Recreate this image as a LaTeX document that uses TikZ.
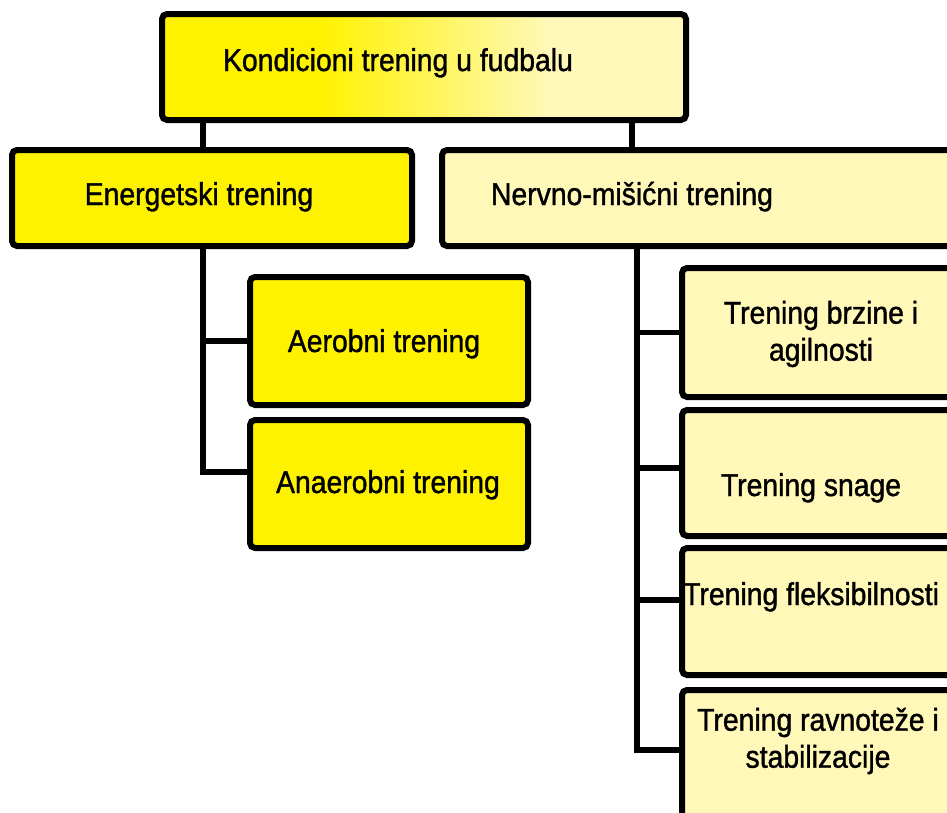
\documentclass[tikz,border=0pt]{standalone}
\usepackage{fontspec}
\setmainfont{Liberation Sans}[FakeStretch=0.9,FakeBold=1.2]
\definecolor{ylw}{RGB}{255,242,0}
\definecolor{pale}{RGB}{255,248,184}
% left-to-right fade used by the root box
\pgfdeclarehorizontalshading{topfade}{100bp}{color(0bp)=(ylw); color(40bp)=(ylw); color(62bp)=(pale); color(100bp)=(pale)}

\begin{document}
\begin{tikzpicture}[x=1pt,y=-1pt,
  box/.style={draw=black, line width=6pt, rounded corners=5pt, inner sep=0pt},
  link/.style={draw=black, line width=5.5pt},
  lbl/.style={inner sep=0pt, font=\fontsize{31.5}{37}\selectfont, align=center, text=black}]

\useasboundingbox[fill=white] (0,0) rectangle (947,812);
\clip (0,0) rectangle (947,812);

% boxes
\node[box, shading=topfade, minimum width=524pt, minimum height=106pt] (top) at (424,67) {};
\node[box, fill=ylw, minimum width=400pt, minimum height=96pt] (ener) at (212,198) {};
\node[box, fill=pale, minimum width=528pt, minimum height=96pt] (nerv) at (706,198) {};
\node[box, fill=ylw, minimum width=278pt, minimum height=128pt] (aer) at (389,341) {};
\node[box, fill=ylw, minimum width=278pt, minimum height=128pt] (anaer) at (389,484) {};
\node[box, fill=pale, minimum width=288pt, minimum height=129pt] (brz) at (826,332.5) {};
\node[box, fill=pale, minimum width=288pt, minimum height=126pt] (snage) at (826,473) {};
\node[box, fill=pale, minimum width=288pt, minimum height=127pt] (fleks) at (826,611.5) {};
\node[box, fill=pale, minimum width=288pt, minimum height=140pt] (ravn) at (826,760) {};

% texts
\node[lbl, anchor=base] (ttop) at (398,71) {Kondicioni trening u fudbalu};
\node[lbl, anchor=base] (tener) at (199,205) {Energetski trening};
\node[lbl, anchor=base] (tnerv) at (632,205) {Nervno-mišićni trening};
\node[lbl, anchor=base] (taer) at (384,352) {Aerobni trening};
\node[lbl, anchor=base] (tanaer) at (388,493) {Anaerobni trening};
\node[lbl] (tbrz) at (821,334) {Trening brzine i\\agilnosti};
\node[lbl, anchor=base] (tsnage) at (811,496) {Trening snage};
\node[lbl, anchor=base west] (tfleks) at (683,605) {Trening fleksibilnosti};
\node[lbl] (travn) at (818,741) {Trening ravnoteže i\\stabilizacije};

% trunk positions and branch points
\coordinate (ja) at (203,0);
\coordinate (jb) at (632,0);
\coordinate (jc) at (637,0);
\coordinate (banaer) at ([yshift=12pt]anaer.west);
\coordinate (bsnage) at ([yshift=5pt]snage.west);
\coordinate (bfleks) at ([yshift=11.5pt]fleks.west);
\coordinate (bravn) at ([yshift=10pt]ravn.west);

% connectors
\draw[link] (top.south -| ja) -- (ener.north -| ja);
\draw[link] (top.south -| jb) -- (nerv.north -| jb);
\draw[link] (ener.south -| ja) |- (banaer);
\draw[link] (ja |- aer.west) -- (aer.west);
\draw[link] (nerv.south -| jc) |- (bravn);
\draw[link] (jc |- brz.west) -- (brz.west);
\draw[link] (bsnage -| jc) -- (bsnage);
\draw[link] (bfleks -| jc) -- (bfleks);
\end{tikzpicture}
\end{document}
